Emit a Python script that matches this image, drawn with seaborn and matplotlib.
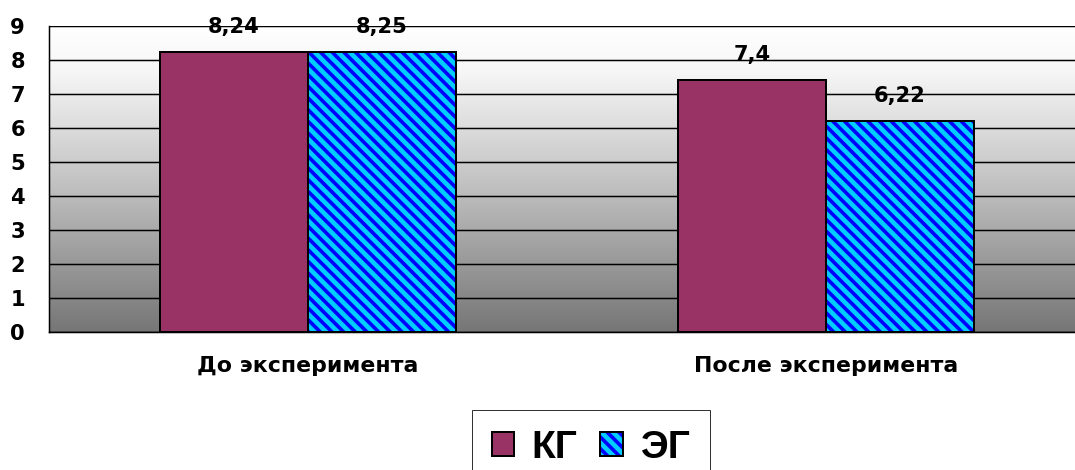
import numpy as np
import pandas as pd
import matplotlib
matplotlib.use("Agg")
import matplotlib.pyplot as plt
import seaborn as sns
from matplotlib.colors import LinearSegmentedColormap
from matplotlib.patches import Rectangle, Patch
from matplotlib.legend_handler import HandlerTuple
from matplotlib.ticker import FixedLocator

# ---- data ----
categories = ["До эксперимента", "После эксперимента"]
groups = ["КГ", "ЭГ"]
kg_values = [8.24, 7.4]
eg_values = [8.25, 6.22]
kg_labels = ["8,24", "7,4"]
eg_labels = ["8,25", "6,22"]
y_ticks = [0, 1, 2, 3, 4, 5, 6, 7, 8, 9]

DPI = 70
W, H = 1075, 470
PT = 72.0 / DPI  # pixels -> points

sns.set_theme(style="white")
plt.rcParams["font.family"] = ["DejaVu Sans"]
plt.rcParams["font.weight"] = "bold"
plt.rcParams["text.color"] = "black"
plt.rcParams["hatch.linewidth"] = 3.6 * PT

purple = "#993366"
cyan = "#00CCFF"
blue = "#0000FF"
HATCH = "\\\\"

fig = plt.figure(figsize=(W / DPI, H / DPI), dpi=DPI)
fig.patch.set_facecolor("white")
ax = fig.add_axes([49 / W, 138 / H, 1036 / W, 306 / H])

df = pd.DataFrame({
    "cat": categories * 2,
    "group": [groups[0]] * len(categories) + [groups[1]] * len(categories),
    "val": kg_values + eg_values,
})

sns.barplot(data=df, x="cat", y="val", hue="group", order=categories,
            hue_order=groups, palette=[purple, cyan], saturation=1,
            width=0.572, edgecolor="black", linewidth=2 * PT,
            errorbar=None, legend=False, ax=ax)

# background gradient
grad = np.linspace(0, 1, 256).reshape(-1, 1)
cmap = LinearSegmentedColormap.from_list(
    "bg", [(0, "#767676"), (0.5, "#c4c4c4"), (0.85, "#f6f6f6"), (1, "#ffffff")])
ax.imshow(grad, aspect="auto", cmap=cmap, origin="lower",
          extent=[0, 1, 0, 1], transform=ax.transAxes, zorder=0)

# style bars
for p in ax.containers[0]:
    p.set_zorder(3)
for p in ax.containers[1]:
    p.set_zorder(3)
    p.set_edgecolor(blue)
    p.set_linewidth(0)
    p.set_hatch(HATCH)
    ax.add_patch(Rectangle(p.get_xy(), p.get_width(), p.get_height(),
                           facecolor="none", edgecolor="black",
                           linewidth=2 * PT, zorder=4))

# value labels
for cont, labels in zip(ax.containers, [kg_labels, eg_labels]):
    for p, lab in zip(cont, labels):
        ax.annotate(lab, (p.get_x() + p.get_width() / 2, p.get_height()),
                    xytext=(0, 25 * PT), textcoords="offset points",
                    ha="center", va="center", fontsize=21 * PT,
                    fontweight="bold", color="black", zorder=5)

ax.set_xlim(-0.5, 1.5)
ax.set_ylim(0, 9)
ax.set_yticks(y_ticks)
ax.set_yticklabels([str(v) for v in y_ticks])
ax.yaxis.grid(True, color="black", linewidth=1.5 * PT)
ax.set_axisbelow(True)

ax.tick_params(axis="y", direction="out", length=8 * PT, width=1.5 * PT,
               color="black", pad=16 * PT, labelsize=21 * PT)
ax.tick_params(axis="x", which="major", length=0, pad=24 * PT,
               labelsize=22 * PT)
ax.xaxis.set_minor_locator(FixedLocator([-0.5, 0.5, 1.5]))
ax.tick_params(axis="x", which="minor", direction="out", length=8 * PT,
               width=1.5 * PT, color="black")
for t in ax.get_xticklabels() + ax.get_yticklabels():
    t.set_fontweight("bold")
    t.set_color("black")
ax.set_xlabel("")
ax.set_ylabel("")

for s in ["top", "right"]:
    ax.spines[s].set_visible(False)
for s in ["left", "bottom"]:
    ax.spines[s].set_color("black")
    ax.spines[s].set_linewidth(1.5 * PT)
    ax.spines[s].set_zorder(4)

# legend
h_kg = Patch(facecolor=purple, edgecolor="black", linewidth=2 * PT)
h_eg_fill = Patch(facecolor=cyan, edgecolor=blue, linewidth=0, hatch=HATCH)
h_eg_edge = Patch(facecolor="none", edgecolor="black", linewidth=2 * PT)
leg = fig.legend([h_kg, (h_eg_fill, h_eg_edge)], groups, ncols=2,
                 loc="upper left", bbox_to_anchor=(472 / W, 1 - 410 / H),
                 borderaxespad=0, frameon=True, fancybox=False, shadow=False,
                 prop={"size": 39 * PT, "weight": "bold",
                       "family": "Liberation Sans"},
                 handlelength=0.58, handleheight=0.58, handletextpad=0.45,
                 columnspacing=0.58, borderpad=0.5,
                 handler_map={tuple: HandlerTuple(ndivide=1, pad=0)})
leg.get_frame().set_edgecolor("black")
leg.get_frame().set_linewidth(1 * PT)
for t in leg.get_texts():
    t.set_color("black")

fig.savefig("out.png", dpi=DPI)
